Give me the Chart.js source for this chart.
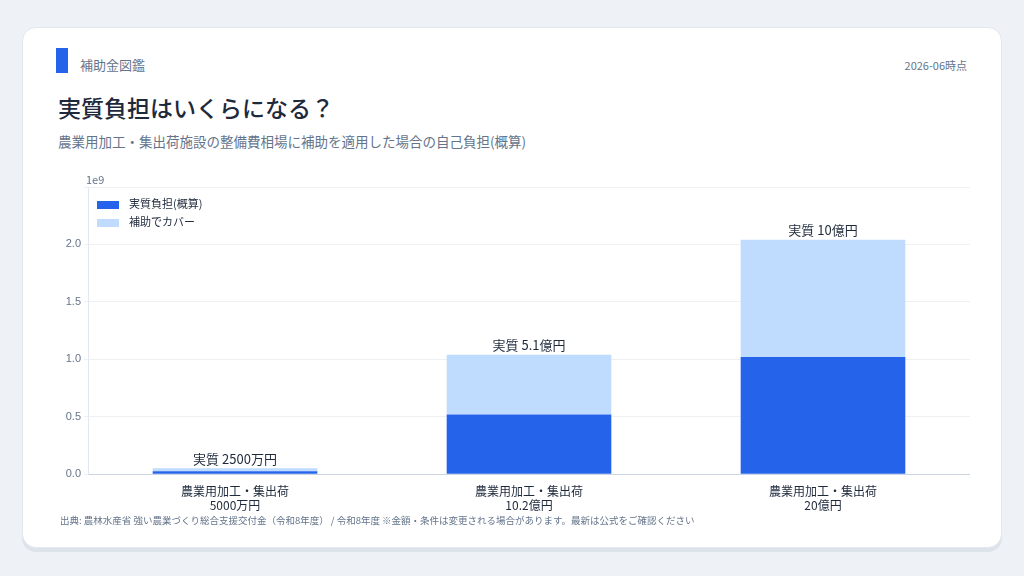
<!DOCTYPE html>
<html><head><meta charset="utf-8">
<script src="https://cdn.jsdelivr.net/npm/chart.js@4"></script>
<style>
body{margin:0;width:1024px;height:576px;background:#eef2f7;font-family:"Noto Sans CJK JP","Noto Sans",sans-serif;position:relative;overflow:hidden}
.card{position:absolute;left:22px;top:27px;width:980px;height:521px;background:#fff;border-radius:14px;box-shadow:0 4px 0 #dde3ea;border:1px solid #e3e8ef;box-sizing:border-box}
.bar{position:absolute;left:56px;top:48px;width:12px;height:25px;background:#2563eb}
.brand{position:absolute;left:80px;top:55px;font-size:13px;color:#64748b}
.date{position:absolute;right:57px;top:57px;font-size:11px;color:#64748b}
h1{position:absolute;left:58px;top:90px;margin:0;font-size:23px;font-weight:500;color:#1e293b}
.sub{position:absolute;left:58px;top:131px;font-size:13.5px;color:#64748b}
.src{position:absolute;left:60px;top:513px;font-size:9.5px;color:#64748b}
.leg{position:absolute;left:97px;top:194px;font-size:11px;color:#1e293b;line-height:18px}
.leg i{display:inline-block;width:22px;height:8px;margin-right:10px;vertical-align:middle}
#wrap{position:absolute;left:55px;top:175px;width:915px;height:340px}
</style></head><body>
<div class="card"></div>
<div class="bar"></div>
<div class="brand">補助金図鑑</div>
<div class="date">2026-06時点</div>
<h1>実質負担はいくらになる？</h1>
<div class="sub">農業用加工・集出荷施設の整備費相場に補助を適用した場合の自己負担(概算)</div>
<div id="wrap"><canvas id="c"></canvas></div>
<div class="leg"><div><i style="background:#2563eb"></i>実質負担(概算)</div><div><i style="background:#bfdbfe"></i>補助でカバー</div></div>
<div class="src">出典: 農林水産省 強い農業づくり総合支援交付金（令和8年度） / 令和8年度 ※金額・条件は変更される場合があります。最新は公式をご確認ください</div>
<script>
const categories = [['農業用加工・集出荷','5000万円'],['農業用加工・集出荷','10.2億円'],['農業用加工・集出荷','20億円']];
const burden = [0.025e9, 0.51e9, 1.0e9];
const covered = [0.025e9, 0.51e9, 1.0e9];
const barLabels = ['実質 2500万円','実質 5.1億円','実質 10億円'];

const topLabels = {
  id: 'topLabels',
  afterDatasetsDraw(chart) {
    const ctx = chart.ctx;
    const meta = chart.getDatasetMeta(1);
    ctx.save();
    ctx.font = '13px "Noto Sans CJK JP"';
    ctx.fillStyle = '#1e293b';
    ctx.textAlign = 'center';
    ctx.textBaseline = 'bottom';
    meta.data.forEach((b, i) => ctx.fillText(barLabels[i], b.x, b.y - 3));
    ctx.font = '11px "Noto Sans CJK JP"';
    ctx.fillStyle = '#64748b';
    ctx.textAlign = 'left';
    ctx.fillText('1e9', chart.chartArea.left - 2, chart.chartArea.top - 2);
    ctx.restore();
  }
};

new Chart(document.getElementById('c'), {
  type: 'bar',
  data: {
    labels: categories,
    datasets: [
      { label: '実質負担(概算)', data: burden, backgroundColor: '#2563eb' },
      { label: '補助でカバー', data: covered, backgroundColor: '#bfdbfe' }
    ]
  },
  options: {
    responsive: true, maintainAspectRatio: false, animation: false,
    layout: { padding: { top: 12 } },
    plugins: { legend: { display: false }, tooltip: { enabled: false } },
    datasets: { bar: { barPercentage: 0.56, categoryPercentage: 1 } },
    scales: {
      x: {
        stacked: true,
        grid: { display: false },
        border: { color: '#cbd5e1' },
        ticks: { color: '#1e293b', font: { size: 12, family: 'Noto Sans CJK JP' }, padding: 2 }
      },
      y: {
        stacked: true, min: 0, max: 2.45e9,
        afterFit(s) { s.width = 33; },
        border: { color: '#e2e8f0' },
        grid: { color: '#eef0f3', tickLength: 4 },
        ticks: {
          stepSize: 0.5e9, color: '#64748b', font: { size: 11 },
          callback: v => v <= 2e9 ? (v / 1e9).toFixed(1) : ''
        }
      }
    }
  },
  plugins: [topLabels]
});
</script>
</body></html>
